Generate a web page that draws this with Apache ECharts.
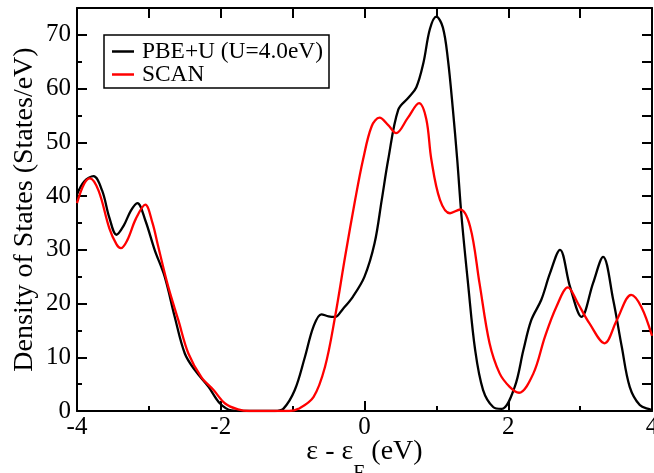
<!DOCTYPE html>
<html>
<head>
<meta charset="utf-8">
<script src="https://cdn.jsdelivr.net/npm/echarts@6/dist/echarts.min.js"></script>
<style>html,body{margin:0;padding:0;background:#fff}#c{width:654px;height:473px}</style>
</head>
<body>
<div id="c"></div>
<script>
const seriesNames = ['PBE+U (U=4.0eV)', 'SCAN'];
const xTicks = [-4, -2, 0, 2, 4];
const yTicks = [0, 10, 20, 30, 40, 50, 60, 70];

const pbeX = [-4.0,-3.9,-3.77,-3.65,-3.55,-3.45,-3.35,-3.25,-3.16,-3.05,-2.92,-2.78,-2.64,-2.5,-2.36,-2.17,-2.01,-1.85,-1.7,-1.25,-1.13,-0.97,-0.83,-0.71,-0.6,-0.5,-0.41,-0.3,-0.16,0.0,0.14,0.24,0.33,0.47,0.61,0.72,0.82,0.91,1.0,1.09,1.16,1.23,1.29,1.35,1.44,1.54,1.65,1.79,1.91,2.09,2.21,2.32,2.46,2.58,2.72,2.86,3.02,3.18,3.32,3.46,3.58,3.69,3.83,3.97,4.0];
const pbeY = [40.3,42.7,43.7,41.0,36.0,32.8,34.5,37.3,38.7,35.5,30,25,17.5,10.7,7.6,4.5,1.4,0.1,0,0,0.4,3.9,10,15.7,18.0,17.6,17.5,19,21.3,25,31.2,39.3,46.8,56.1,58.3,60.2,64.8,71.1,73.4,71.4,65.5,56.1,46.8,36.2,23.8,11.3,3.9,0.75,0.4,4.5,11.3,16.9,20.7,25.6,30,23.1,17.5,23.8,28.7,20.7,11.9,4.5,1.1,0.3,0.2];

const scanX = [-4.0,-3.9,-3.82,-3.7,-3.55,-3.45,-3.39,-3.3,-3.18,-3.05,-2.95,-2.87,-2.73,-2.59,-2.45,-2.27,-2.1,-1.94,-1.76,-1.6,-1.05,-0.92,-0.71,-0.55,-0.41,-0.27,-0.13,-0.02,0.1,0.21,0.33,0.44,0.6,0.76,0.86,0.93,1.05,1.19,1.33,1.47,1.6,1.74,1.88,2.02,2.15,2.35,2.51,2.67,2.83,2.97,3.13,3.34,3.51,3.71,3.85,4.0];
const scanY = [38.7,42.3,43.3,41,34,31,30.3,31.8,35.8,38.4,35,30.6,23.1,16.9,10.7,6.3,3.9,1.4,0.3,0,0,0.4,2.6,8.2,17.5,28.7,39.3,46.8,53,54.6,53.2,51.7,54.5,57.3,54.3,46.8,39.3,36.8,37.5,34.3,23.8,12.6,7,4.5,3.4,7,13.8,19.4,23.0,20.0,16.3,12.6,16.9,21.6,19.4,14.0];

const FONT = 'Liberation Serif';
const zip = (xs, ys) => xs.map((x, i) => [x, ys[i]]);

const chart = echarts.init(document.getElementById('c'), null, {renderer: 'canvas'});
const axisLine = {show: true, onZero: false, lineStyle: {color: '#000', width: 2}};
const tickStyle = {color: '#000', width: 2};
chart.setOption({
  animation: false,
  backgroundColor: '#fff',
  grid: {left: 77, right: 2, top: 8, bottom: 62, containLabel: false, outerBoundsMode: 'none'},
  legend: {
    left: 104, top: 35, orient: 'vertical',
    data: seriesNames.map(n => ({name: n, icon: 'rect'})),
    itemWidth: 22, itemHeight: 2.5, itemGap: 0,
    padding: [5, 6, 2, 8],
    borderColor: '#000', borderWidth: 1.5,
    textStyle: {fontFamily: FONT, fontSize: 23.4, lineHeight: 23, color: '#000', padding: [0, 0, 0, 3]}
  },
  xAxis: [{
    type: 'value', position: 'bottom', min: xTicks[0], max: xTicks[xTicks.length - 1], interval: 2,
    axisLine: axisLine,
    axisTick: {show: true, inside: true, length: 10, lineStyle: tickStyle},
    minorTick: {show: true, splitNumber: 2, length: 5, lineStyle: tickStyle},
    splitLine: {show: false},
    axisLabel: {fontFamily: FONT, fontSize: 25, color: '#000', margin: 4},
    name: '{m|ε - ε}{sub|F}{m| (eV)}', nameLocation: 'middle', nameGap: 27, nameMoveOverlap: false,
    nameTextStyle: {fontFamily: FONT, fontSize: 28, color: '#000', verticalAlign: 'top',
      rich: {
        m: {fontFamily: FONT, fontSize: 28, lineHeight: 28, color: '#000', verticalAlign: 'top'},
        sub: {fontFamily: FONT, fontSize: 20, lineHeight: 20, color: '#000', verticalAlign: 'top', padding: [26, 0, 0, 0]}
      }}
  }, {
    type: 'value', position: 'top', min: -4, max: 4, interval: 1,
    axisLine: axisLine,
    axisTick: {show: true, inside: true, length: 10, lineStyle: tickStyle},
    axisLabel: {show: false}, splitLine: {show: false}
  }],
  yAxis: [{
    type: 'value', position: 'left', min: yTicks[0], max: 75, interval: 10,
    axisLine: axisLine,
    axisTick: {show: true, inside: true, length: 10, lineStyle: tickStyle},
    minorTick: {show: true, splitNumber: 2, length: 5, lineStyle: tickStyle},
    splitLine: {show: false},
    axisLabel: {fontFamily: FONT, fontSize: 25, color: '#000', margin: 6, showMaxLabel: false},
    name: 'Density of States (States/eV)', nameLocation: 'middle', nameGap: 38, nameMoveOverlap: false,
    nameTextStyle: {fontFamily: FONT, fontSize: 28, color: '#000'}
  }, {
    type: 'value', position: 'right', min: 0, max: 75, interval: 5,
    axisLine: axisLine,
    axisTick: {show: true, inside: true, length: 10, lineStyle: tickStyle},
    axisLabel: {show: false}, splitLine: {show: false}
  }],
  series: [{
    name: seriesNames[0], type: 'line', xAxisIndex: 0, yAxisIndex: 0,
    data: zip(pbeX, pbeY), symbol: 'none', smooth: 0.35,
    lineStyle: {color: '#000', width: 2.3}, itemStyle: {color: '#000'}
  }, {
    name: seriesNames[1], type: 'line', xAxisIndex: 0, yAxisIndex: 0,
    data: zip(scanX, scanY), symbol: 'none', smooth: 0.35,
    lineStyle: {color: '#ff0000', width: 2.3}, itemStyle: {color: '#ff0000'}
  }]
});
</script>
</body>
</html>
